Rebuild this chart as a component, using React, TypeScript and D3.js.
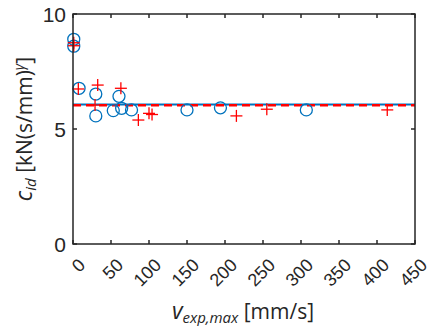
import React from "react";
import * as d3 from "d3";

const circleX = [1, 1, 8, 30, 30, 53, 60.5, 64, 77, 150, 194, 307];
const circleY = [8.9, 8.6, 6.77, 6.52, 5.57, 5.8, 6.42, 5.9, 5.83, 5.83, 5.92, 5.83];
const plusX = [1, 1, 7, 32.5, 29, 63, 86, 100, 104, 215, 255, 413.5];
const plusY = [8.75, 8.62, 6.74, 6.91, 6.04, 6.77, 5.39, 5.68, 5.63, 5.57, 5.86, 5.83];
const blueLineY = 6.07;
const redLineY = 6.03;
const xTicks = [0, 50, 100, 150, 200, 250, 300, 350, 400, 450];
const yTicks = [0, 5, 10];

const W = 427, H = 326;
const L = 73, R = 415, T = 14, B = 244;

export default function App() {
  const x = d3.scaleLinear().domain([0, 450]).range([L, R]);
  const y = d3.scaleLinear().domain([0, 10]).range([B, T]);
  const font = "'Liberation Sans', Arial, sans-serif";
  const blue = "#0072BD";
  const red = "#FF0000";
  const axisColor = "#262626";
  return (
    <svg width={W} height={H} style={{ position: "absolute", left: 0, top: 0, background: "#fff" }}>
      <line x1={x(0)} x2={x(450)} y1={y(blueLineY)} y2={y(blueLineY)} stroke={blue} strokeWidth={2} />
      <line x1={x(0)} x2={x(450)} y1={y(redLineY)} y2={y(redLineY)} stroke={red} strokeWidth={2.5} strokeDasharray="8 5" />
      {circleX.map((cx, i) => (
        <circle key={"c" + i} cx={x(cx)} cy={y(circleY[i])} r={6} fill="none" stroke={blue} strokeWidth={1.3} />
      ))}
      {plusX.map((px, i) => {
        const X = x(px), Y = y(plusY[i]);
        return (
          <g key={"p" + i} stroke={red} strokeWidth={1.3}>
            <line x1={X - 6} x2={X + 6} y1={Y} y2={Y} />
            <line x1={X} x2={X} y1={Y - 6} y2={Y + 6} />
          </g>
        );
      })}
      <rect x={L} y={T} width={R - L} height={B - T} fill="none" stroke={axisColor} strokeWidth={1.5} />
      {xTicks.map((t) => (
        <g key={"xt" + t}>
          <line x1={x(t)} x2={x(t)} y1={B} y2={B - 4} stroke={axisColor} strokeWidth={1.5} />
          <line x1={x(t)} x2={x(t)} y1={T} y2={T + 4} stroke={axisColor} strokeWidth={1.5} />
          <text
            transform={`translate(${x(t) + 9},${B + 18}) rotate(-45)`}
            textAnchor="end"
            dominantBaseline="central"
            fontFamily={font}
            fontSize={18}
            fill="#262626"
          >
            {t}
          </text>
        </g>
      ))}
      {yTicks.map((t) => (
        <g key={"yt" + t}>
          <line x1={L} x2={L + 4} y1={y(t)} y2={y(t)} stroke={axisColor} strokeWidth={1.5} />
          <line x1={R} x2={R - 4} y1={y(t)} y2={y(t)} stroke={axisColor} strokeWidth={1.5} />
          <text x={L - 7} y={y(t)} textAnchor="end" dominantBaseline="central" fontFamily={font} fontSize={21} fill="#262626">
            {t}
          </text>
        </g>
      ))}
      <text x={243} y={319} textAnchor="middle" fontFamily="'Open Sans', sans-serif" fontSize={21} fill="#262626">
        <tspan fontStyle="italic" fontSize={23}>v</tspan>
        <tspan fontStyle="italic" fontSize={15} dy={4}>exp,max</tspan>
        <tspan dy={-4}> [mm/s]</tspan>
      </text>
      <text transform={`translate(32,${(T + B) / 2}) rotate(-90)`} textAnchor="middle" fontFamily="'Open Sans', sans-serif" fontSize={21} fill="#262626">
        <tspan fontStyle="italic" fontSize={23}>c</tspan>
        <tspan fontStyle="italic" fontSize={15} dy={4}>id</tspan>
        <tspan dy={-4}> [kN(s/mm)</tspan>
        <tspan fontStyle="italic" fontSize={14} dy={-8}>γ</tspan>
        <tspan dy={8}>]</tspan>
      </text>
    </svg>
  );
}
